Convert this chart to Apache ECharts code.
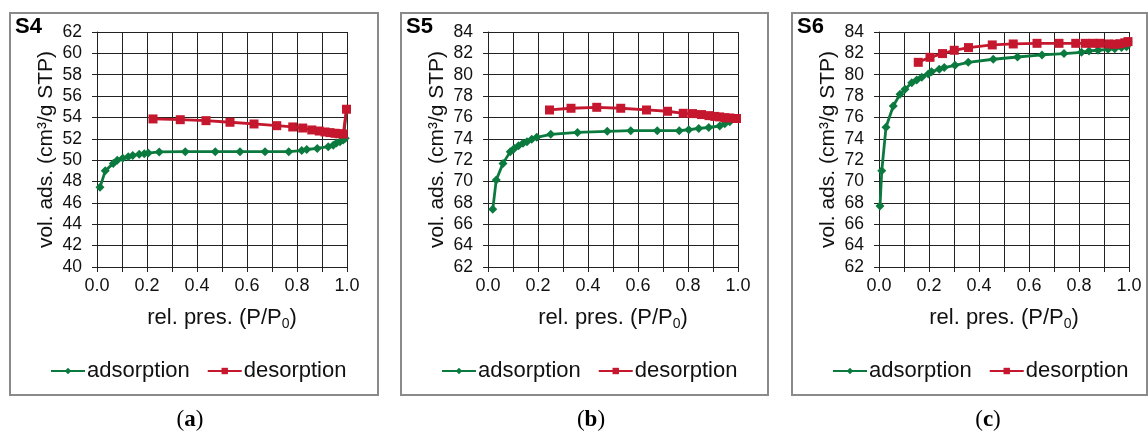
<!DOCTYPE html>
<html>
<head>
<meta charset="utf-8">
<script src="https://cdn.jsdelivr.net/npm/echarts@6/dist/echarts.min.js"></script>
<style>
  html, body { margin: 0; padding: 0; background: #fff; }
  #chart { width: 1148px; height: 434px; }
</style>
</head>
<body>
<div id="chart"></div>
<script>
// S4 isotherm [P/P0, vol]
var s4Ads = [[0.012,47.46],[0.033,49.0],[0.065,49.7],[0.081,50.0],[0.103,50.18],[0.125,50.33],[0.143,50.45],[0.169,50.55],[0.189,50.6],[0.205,50.67],[0.249,50.77],[0.353,50.8],[0.473,50.8],[0.572,50.8],[0.672,50.8],[0.767,50.8],[0.819,50.9],[0.839,51.0],[0.881,51.1],[0.925,51.26],[0.945,51.4],[0.958,51.6],[0.972,51.73],[0.985,51.9],[0.993,52.05],[0.998,54.77]];
var s4Des = [[0.998,54.77],[0.985,52.45],[0.968,52.48],[0.952,52.52],[0.932,52.58],[0.912,52.64],[0.889,52.73],[0.859,52.83],[0.823,53.01],[0.783,53.11],[0.719,53.23],[0.628,53.39],[0.532,53.55],[0.436,53.70],[0.333,53.79],[0.224,53.86]];
// S5
var s5Ads = [[0.019,67.4],[0.033,70.15],[0.060,71.7],[0.089,72.8],[0.105,73.1],[0.122,73.36],[0.140,73.58],[0.156,73.73],[0.175,73.95],[0.195,74.14],[0.251,74.42],[0.358,74.6],[0.477,74.7],[0.571,74.76],[0.677,74.76],[0.765,74.76],[0.803,74.85],[0.843,74.97],[0.883,75.06],[0.927,75.2],[0.947,75.4],[0.967,75.6],[0.994,75.9]];
var s5Des = [[0.994,75.9],[0.967,75.95],[0.947,75.98],[0.927,76.05],[0.907,76.1],[0.884,76.17],[0.854,76.27],[0.818,76.36],[0.781,76.39],[0.718,76.58],[0.634,76.70],[0.531,76.86],[0.435,76.95],[0.332,76.86],[0.246,76.70]];
// S6
var s6Ads = [[0.004,67.7],[0.011,71.0],[0.028,75.08],[0.057,77.07],[0.084,78.17],[0.104,78.64],[0.131,79.26],[0.151,79.51],[0.171,79.76],[0.197,80.07],[0.210,80.29],[0.241,80.51],[0.261,80.67],[0.304,80.88],[0.357,81.16],[0.457,81.45],[0.554,81.66],[0.652,81.85],[0.740,81.98],[0.810,82.1],[0.840,82.23],[0.876,82.29],[0.916,82.38],[0.943,82.44],[0.970,82.54],[0.990,82.63],[0.996,83.1]];
var s6Des = [[0.996,83.1],[0.983,82.99],[0.963,82.9],[0.943,82.85],[0.920,82.88],[0.883,82.94],[0.856,82.94],[0.826,82.94],[0.787,82.94],[0.720,82.94],[0.632,82.94],[0.537,82.88],[0.453,82.79],[0.358,82.54],[0.301,82.29],[0.254,81.98],[0.204,81.63],[0.157,81.16]];

var panelNames = ["S4", "S5", "S6"];
var captions = ["a", "b", "c"];
var yRanges = [[40, 62], [62, 84], [62, 84]];
var adsData = [s4Ads, s5Ads, s6Ads];
var desData = [s4Des, s5Des, s6Des];

var FONT = "Liberation Sans";
var GREEN = "#0b7a3e";
var RED = "#c5172e";
var gridLeft = [97, 488, 879];
var boxLeft = [10, 401, 792];
var boxRight = [378, 768, 1147];
var legendLeft = [45, 436, 827];
var captionX = [190, 591, 988];

var chart = echarts.init(document.getElementById("chart"));

var grids = [], xAxes = [], yAxes = [], series = [], legends = [], graphics = [];

for (var i = 0; i < 3; i++) {
  grids.push({ left: gridLeft[i], top: 32, width: 250, height: 235 });
  xAxes.push({
    type: "value", gridIndex: i, min: 0, max: 1, interval: 0.1,
    name: "{a|rel. pres. (P/P}{s|0}{a|)}",
    nameLocation: "middle", nameGap: 37,
    nameTextStyle: {
      rich: {
        a: { fontFamily: FONT, fontSize: 22, color: "#111" },
        s: { fontFamily: FONT, fontSize: 14, color: "#111", padding: [13, 0, 0, 0] }
      }
    },
    axisLine: { lineStyle: { color: "#222", width: 1 } },
    axisTick: { show: true, length: 5, lineStyle: { color: "#222" } },
    axisLabel: {
      margin: 10, fontFamily: FONT, fontSize: 18, color: "#111",
      formatter: function (v) {
        return Math.round(v * 10) % 2 === 0 ? v.toFixed(1) : "";
      }
    },
    splitLine: { show: true, lineStyle: { color: "#222", width: 1 } }
  });
  yAxes.push({
    type: "value", gridIndex: i, min: yRanges[i][0], max: yRanges[i][1], interval: 2,
    name: "vol. ads. (cm³/g STP)",
    nameLocation: "middle", nameGap: 40, nameRotate: 90,
    nameTextStyle: { fontFamily: FONT, fontSize: 21, color: "#111" },
    axisLine: { show: true, lineStyle: { color: "#222", width: 1 } },
    axisTick: { show: true, length: 5, lineStyle: { color: "#222" } },
    axisLabel: { margin: 15, fontFamily: FONT, fontSize: 17.5, color: "#111" },
    splitLine: { show: true, lineStyle: { color: "#222", width: 1 } }
  });
  series.push({
    name: "adsorption", type: "line", xAxisIndex: i, yAxisIndex: i,
    data: adsData[i], symbol: "diamond", symbolSize: 9,
    lineStyle: { color: GREEN, width: 2.8 }, itemStyle: { color: GREEN },
    animation: false
  });
  series.push({
    name: "desorption", type: "line", xAxisIndex: i, yAxisIndex: i,
    data: desData[i], symbol: "rect", symbolSize: 9,
    lineStyle: { color: RED, width: 2.8 }, itemStyle: { color: RED },
    animation: false
  });
  legends.push({
    data: ["adsorption", "desorption"],
    left: legendLeft[i], top: 355,
    itemWidth: 34, itemHeight: 8, itemGap: 17,
    textStyle: { fontFamily: FONT, fontSize: 22, color: "#111", padding: [0, 0, 0, -3] }
  });
  // panel frame
  graphics.push({
    type: "rect", silent: true, z: -1,
    shape: { x: boxLeft[i], y: 13, width: boxRight[i] - boxLeft[i], height: 382 },
    style: { fill: null, stroke: "#8a8a8a", lineWidth: 2 }
  });
  graphics.push({
    type: "text", silent: true,
    x: boxLeft[i] + 5, y: 16,
    style: { text: panelNames[i], fontFamily: FONT, fontWeight: "bold", fontSize: 22, fill: "#000" }
  });
  graphics.push({
    type: "text", silent: true,
    x: captionX[i], y: 420,
    style: {
      text: "{p|(}{b|" + captions[i] + "}{p|)}",
      align: "center", verticalAlign: "middle",
      rich: {
        p: { fontFamily: "Liberation Serif", fontSize: 23, fill: "#000" },
        b: { fontFamily: "Liberation Serif", fontSize: 23, fontWeight: "bold", fill: "#000" }
      }
    }
  });
}

var option = {
  backgroundColor: "#fff",
  animation: false,
  grid: grids,
  xAxis: xAxes,
  yAxis: yAxes,
  legend: legends,
  series: series,
  graphic: graphics
};
chart.setOption(option);
</script>
</body>
</html>
